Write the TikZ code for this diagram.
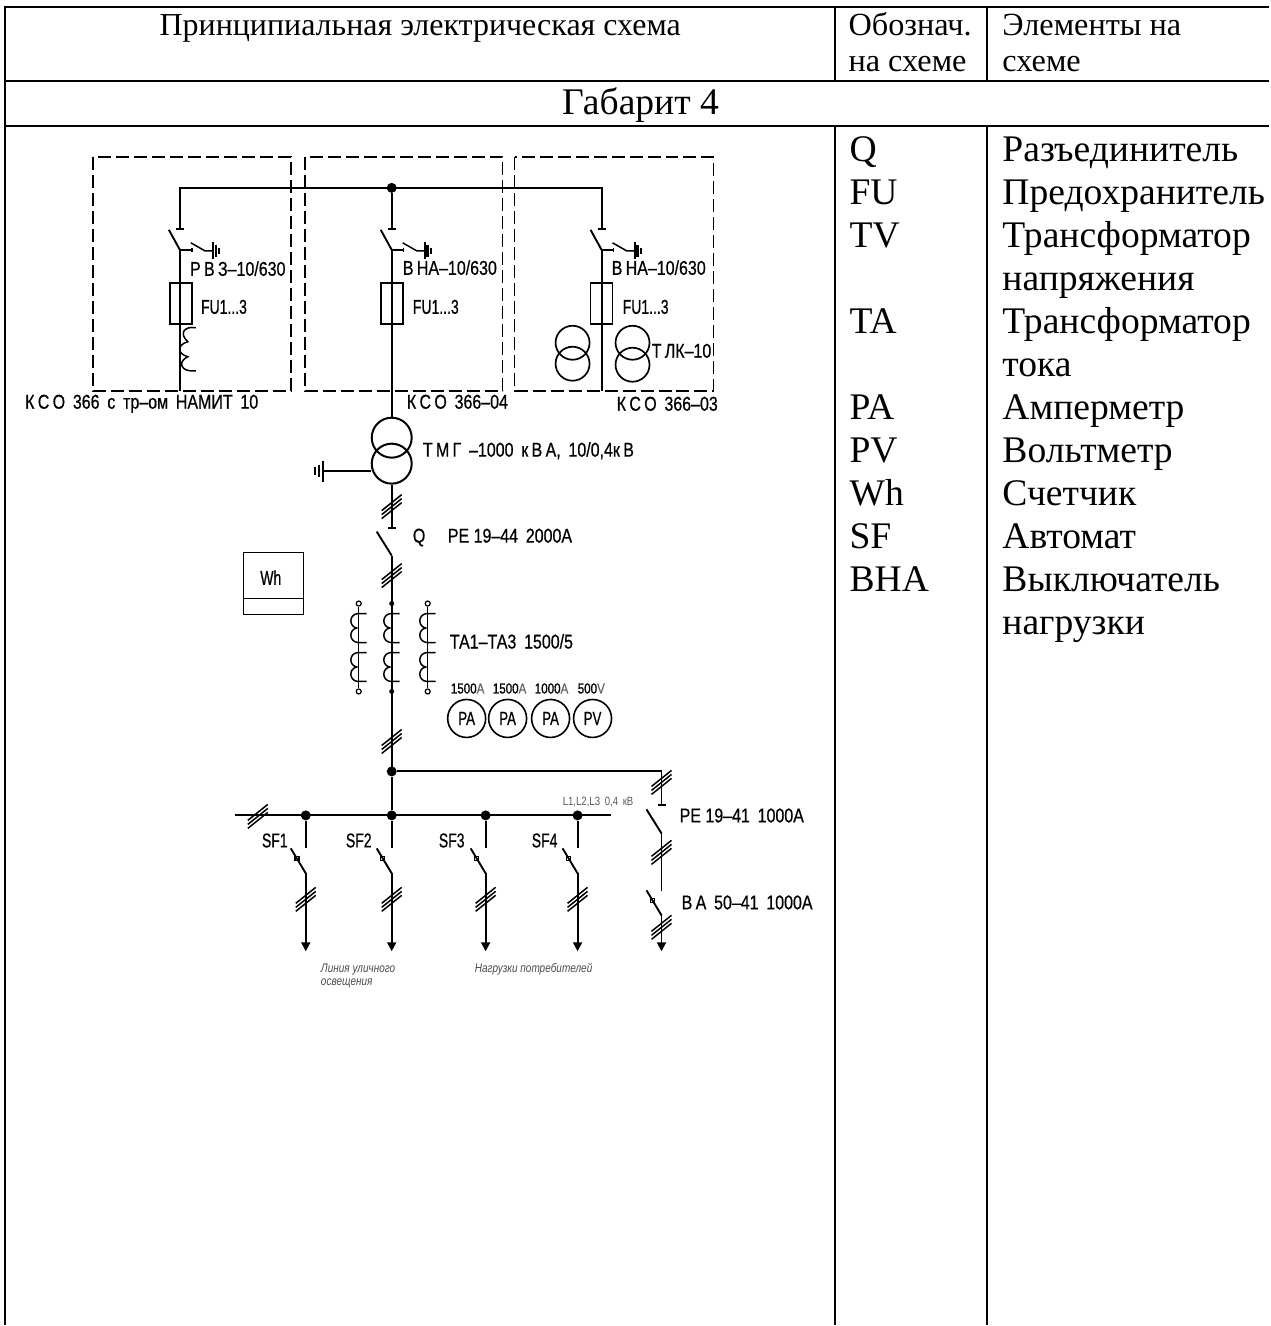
\documentclass[tikz,border=0pt]{standalone}
\usepackage{fontspec}
\setmainfont{Liberation Serif}
\newfontfamily\cadfont[FakeStretch=0.8,FakeBold=0.6]{Liberation Sans}
\newfontfamily\cadnarrow[FakeStretch=0.7,FakeBold=0.6]{Liberation Sans}
\newfontfamily\notefont[FakeStretch=0.8]{Liberation Sans}
\usetikzlibrary{arrows.meta}

\begin{document}
\begin{tikzpicture}[
	x=1pt, y=-1pt,
	every node/.style={inner sep=0pt, anchor=base west},
	tbl/.style={line width=2pt},
	head/.style={font=\fontsize{32.3}{36}\selectfont},
	body/.style={font=\fontsize{37.6}{43}\selectfont},
	wire/.style={line width=1.9pt},
	thinwire/.style={line width=1.5pt},
	box/.style={line width=1.6pt, dash pattern=on 13pt off 5pt},
	load/.style={wire, -{Triangle[length=9pt,width=9pt]}},
	cad/.style={font=\cadfont\fontsize{20}{22}\selectfont},
	narrow/.style={font=\cadnarrow\fontsize{20}{22}\selectfont},
	rating/.style={font=\cadfont\fontsize{14.5}{16}\selectfont},
	note/.style={font=\notefont\itshape\fontsize{12.5}{13}\selectfont, text=black!70},
	dot/.style={circle, fill, anchor=center, minimum size=10pt},
	tdot/.style={circle, fill, anchor=center, minimum size=5pt},
	odot/.style={circle, draw, fill=white, line width=1.2pt, anchor=center, minimum size=5pt},
	meter/.style={circle, draw, line width=1.6pt, anchor=center, minimum size=38pt,
		font=\cadnarrow\fontsize{19}{20}\selectfont},
	fuse/.style={draw, line width=1.6pt, anchor=center, minimum width=22pt, minimum height=41pt},
	ring/.style={circle, draw, line width=1.7pt, anchor=center, minimum size=34pt},
	bigring/.style={circle, draw, line width=2pt, anchor=center, minimum size=40pt},
	slashes/.pic={
		\foreach \d in {-4,0,4}
			\draw[thinwire] (-10,8+\d) -- (10,-8+\d);
	},
	disc/.pic={
		\draw[wire] (-15,-24) -- (0,0);
		\draw[wire] (-4,-28) -- (4,-28);
	},
	hvdisc/.pic={
		\draw[wire] (-11,-20) -- (0,0);
		\draw[wire] (-4,-21) -- (4,-21);
		\draw[thinwire] (0,0) -- (12,0) (12,-2) -- (12,2);
		\draw[thinwire] (11,-7) -- (25,1) -- (33,1);
		\draw[line width=2pt] (33,-8) -- (33,9);
		\draw[line width=2.4pt] (36,-5) -- (36,7);
		\draw[line width=2pt] (39,-2) -- (39,4);
	},
	breaker/.pic={
		\draw[wire] (-15,-25) -- (0,0);
		\draw[thinwire] (-11,-17) rectangle (-7,-13);
	},
	coil/.pic={
		\draw[thinwire] (8,0) -- (-1,0) .. controls (-10,1) and (-10,13) .. (-2,14.5)
			.. controls (-10,16) and (-10,28) .. (-1,29) -- (8,29);
	}
	]
	% table
	\draw[tbl] (5,7) -- (1270,7);
	\draw[tbl] (5,81) -- (1270,81);
	\draw[tbl] (5,126) -- (1270,126);
	\draw[tbl] (5,6) -- (5,1326);
	\foreach \x in {836,988} {
		\draw[tbl] (\x,7) -- (\x,81);
		\draw[tbl] (\x,126) -- (\x,1326);
	}
	\node[font=\fontsize{32}{36}\selectfont, anchor=base] (title) at (420.5,36) {Принципиальная электрическая схема};
	\node[head] (sym1) at (849,36) {Обознач.};
	\node[head] (sym2) at (849,72) {на схеме};
	\node[head] (elem1) at (1003,36) {Элементы на};
	\node[head] (elem2) at (1003,72) {схеме};
	\node[body, anchor=base] (size) at (641,115) {Габарит 4};
	\foreach \n/\txt in {0/Q,1/FU,2/TV,4/TA,6/PA,7/PV,8/Wh,9/SF,10/BHA}
		\node[body] (s\n) at (850,162+43*\n) {\txt};
	\foreach \n/\txt in {0/Разъединитель,1/Предохранитель,2/Трансформатор,3/напряжения,
		4/Трансформатор,5/тока,6/Амперметр,7/Вольтметр,8/Счетчик,9/Автомат,10/Выключатель,11/нагрузки}
		\node[body] (e\n) at (1003,162+43*\n) {\txt};

	% cells
	\draw[box] (93,157) rectangle (291,391);
	\draw[box] (305,157) rectangle (503,391);
	\draw[box] (515,157) rectangle (714,391);

	% 10 kV bus
	\node[dot] (top) at (392,188) {};
	\coordinate (busl) at (180,188);
	\coordinate (busr) at (602,188);
	\coordinate (capl) at (180,229);
	\coordinate (capm) at (392,229);
	\coordinate (capr) at (602,229);
	\coordinate (hingel) at (180,250);
	\coordinate (hingem) at (392,250);
	\coordinate (hinger) at (602,250);
	\coordinate (endl) at (180,391);
	\coordinate (endr) at (602,391);
	\draw[wire] (capl) -- (busl) -- (busr) -- (capr);
	\draw[wire] (top) -- (capm);
	\foreach \p in {hingel,hingem,hinger}
		\pic at (\p) {hvdisc};
	\node[fuse, line width=2pt] (fu1) at (181,303.5) {};
	\node[fuse] (fu2) at (392,303.5) {};
	\node[fuse] (fu3) at (602,303.5) {};
	\draw[wire] (hingel) -- (endl);
	\draw[wire] (hinger) -- (endr);
	\draw[thinwire] (196,328) .. controls (184,326) and (179,334) .. (188,342)
		.. controls (177,345) and (177,354) .. (188,357)
		.. controls (177,362) and (181,373) .. (196,371);
	\node[ring] (tv1) at (573,343) {};
	\node[ring] (tv2) at (573,364) {};
	\node[ring] (tl1) at (633,343) {};
	\node[ring] (tl2) at (633,365) {};

	\node[cad] (rvz) at (190,276) {Р\,В\,З–10/630};
	\node[cad] (vna1) at (403,275) {В\,НА–10/630};
	\node[cad] (vna2) at (612,275) {В\,НА–10/630};
	\node[narrow] (fl1) at (201,314) {FU1...3};
	\node[narrow] (fl2) at (413,314) {FU1...3};
	\node[narrow] (fl3) at (623,314) {FU1...3};
	\node[cad] (tlk) at (652,358) {Т\,ЛК–10};
	\node[cad] (kso1) at (25,409) {К\,С\,О\, 366 \,с \,тр–ом \,НАМИТ \,10};
	\node[cad] (kso2) at (407,409) {К\,С\,О\, 366–04};
	\node[cad] (kso3) at (617,411) {К\,С\,О\, 366–03};

	% power transformer
	\node[bigring] (tm1) at (392,438) {};
	\node[bigring] (tm2) at (392,464) {};
	\coordinate (gnd) at (323,471);
	\coordinate (capq) at (392,528);
	\coordinate (hingeq) at (392,556);
	\coordinate (bus0) at (392,772);
	\draw[wire] (hingem) -- (tm1.north);
	\draw[wire] (tm2.south) -- (capq);
	\draw[wire] (tm2.west |- gnd) -- (gnd);
	\draw[line width=2.4pt] (323,461) -- (323,482) (319,465) -- (319,477);
	\draw[line width=2.4pt] (315,467) -- (315,475);
	\pic at (392,507) {slashes};
	\pic at (hingeq) {disc};
	\pic at (392,576) {slashes};
	\pic at (392,742) {slashes};
	\node[cad] (tmg) at (423,457) {Т\,М\,Г \,–1000 \,к\,В\,А, \,10/0,4к\,В};
	\node[cad] (ql) at (413,543) {Q};
	\node[cad] (qtype) at (448,543) {PE 19–44 \,2000А};

	% meter box
	\node[draw, line width=1.6pt, anchor=north west, minimum width=60pt, minimum height=62pt] (wh) at (243,552) {};
	\draw[line width=1.6pt] (243,599) -- (303,599);
	\node[font=\cadnarrow\fontsize{20}{20}\selectfont, anchor=center] (whl) at (271,578) {Wh};

	% current transformers
	\node[odot] (ta1a) at (359,604) {};
	\node[odot] (ta1b) at (359,692) {};
	\node[tdot] (ta2a) at (392,604) {};
	\node[tdot] (ta2b) at (392,692) {};
	\node[odot] (ta3a) at (428,604) {};
	\node[odot] (ta3b) at (428,692) {};
	\draw[thinwire] (ta1a) -- (ta1b);
	\draw[thinwire] (ta3a) -- (ta3b);
	\foreach \x in {359,392,428}
		\foreach \y in {614,653}
			\pic at (\x,\y) {coil};
	\draw[wire] (hingeq) -- (bus0);
	\node[cad] (tal) at (450,649) {ТА1–ТА3 \,1500/5};
	\node[rating] (r1) at (451,694) {1500{\color{black!60}A}};
	\node[rating] (r2) at (493,694) {1500{\color{black!60}A}};
	\node[rating] (r3) at (535,694) {1000{\color{black!60}A}};
	\node[rating] (r4) at (578,694) {500{\color{black!60}V}};
	\node[meter] (pa1) at (467,719) {PA};
	\node[meter] (pa2) at (508,719) {PA};
	\node[meter] (pa3) at (551,719) {PA};
	\node[meter] (pv) at (593,719) {PV};

	% 0,4 kV bus
	\node[dot] (n0) at (392,772) {};
	\node[dot] (sfn1) at (306,816) {};
	\node[dot] (sfn2) at (392,816) {};
	\node[dot] (sfn3) at (486,816) {};
	\node[dot] (sfn4) at (578,816) {};
	\coordinate (lvl) at (235,816);
	\coordinate (lvr) at (611,816);
	\draw[wire] (lvl) -- (lvr);
	\draw[wire] (n0) -- (sfn2);
	\pic at (258,817) {slashes};
	\foreach \i/\x in {1/306,2/392,3/486,4/578} {
		\coordinate (op\i) at (\x,849);
		\coordinate (hi\i) at (\x,874);
		\coordinate (out\i) at (\x,952);
		\draw[wire] (sfn\i) -- (op\i);
		\pic at (hi\i) {breaker};
		\draw[load] (hi\i) -- (out\i);
		\pic at (\x,900) {slashes};
	}
	\node[narrow] (sf1) at (262,848) {SF1};
	\node[narrow] (sf2) at (346,848) {SF2};
	\node[narrow] (sf3) at (439,848) {SF3};
	\node[narrow] (sf4) at (532,848) {SF4};
	\node[font=\notefont\fontsize{12}{13}\selectfont, text=black!65] (lv) at (563,806) {L1,L2,L3 \,0,4 \,кВ};
	\node[note] (lamp1) at (321,973) {Линия уличного};
	\node[note] (lamp2) at (321,986) {освещения};
	\node[note] (cons) at (475,973) {Нагрузки потребителей};

	% incomer branch
	\coordinate (brk) at (662,772);
	\coordinate (capb) at (662,806);
	\coordinate (hib) at (662,834);
	\coordinate (opb) at (662,892);
	\coordinate (hic) at (662,916);
	\coordinate (outb) at (662,952);
	\draw[wire] (n0) -- (brk) -- (capb);
	\pic at (662,783) {slashes};
	\pic at (hib) {disc};
	\draw[wire] (hib) -- (opb);
	\pic at (662,853) {slashes};
	\pic at (hic) {breaker};
	\draw[load] (hic) -- (outb);
	\pic at (662,928) {slashes};
	\node[cad] (petype) at (680,823) {PE 19–41 \,1000А};
	\node[cad] (vatype) at (682,910) {В\,А \,50–41 \,1000А};

	\useasboundingbox (0,0) rectangle (1270,1326);
\end{tikzpicture}
\end{document}
